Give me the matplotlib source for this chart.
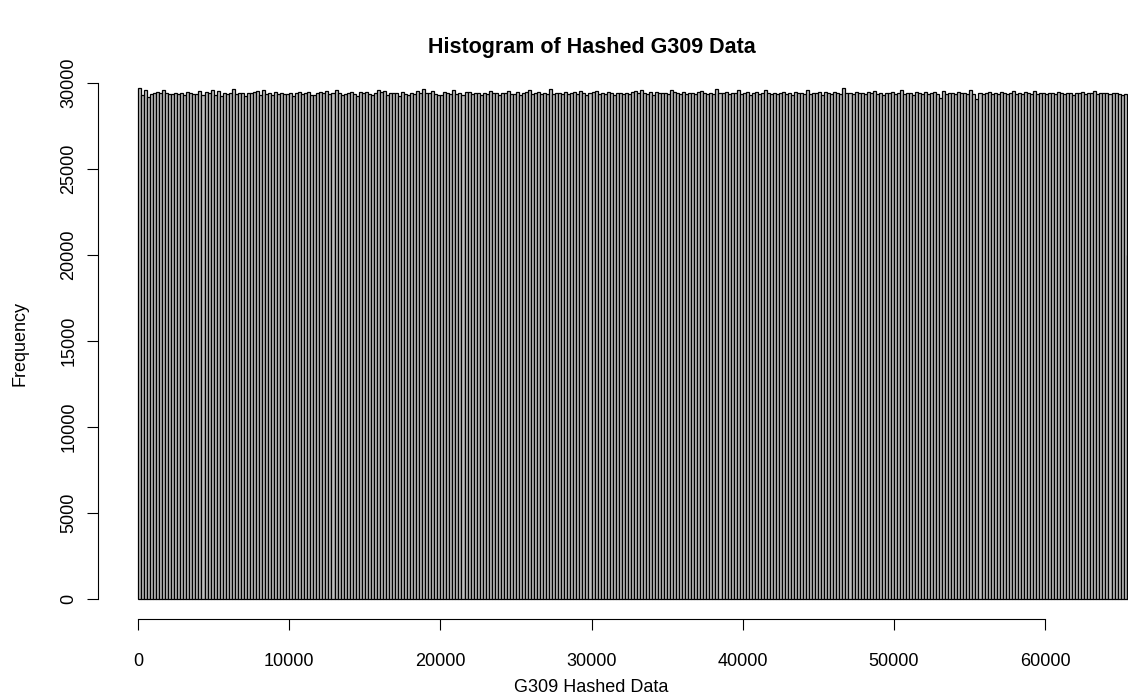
import numpy as np
import matplotlib
matplotlib.use("Agg")
import matplotlib.pyplot as plt

# ── Data: bin counts of hashed values, bin width 200 ─────────────────────────
BIN_WIDTH = 200
counts = [
    29720, 29320, 29580, 29210, 29360, 29430, 29500, 29390, 29620, 29410, 29380, 29340, 29400, 29360, 29400, 29320, 29470, 29410, 29340, 29370,
    29520, 29280, 29490, 29400, 29580, 29320, 29520, 29260, 29400, 29380, 29400, 29650, 29370, 29430, 29440, 29250, 29390, 29400, 29500, 29520,
    29320, 29600, 29360, 29420, 29280, 29460, 29350, 29410, 29380, 29360, 29440, 29270, 29400, 29470, 29360, 29420, 29500, 29320, 29310, 29420,
    29480, 29400, 29560, 29340, 29390, 29620, 29420, 29300, 29380, 29420, 29500, 29340, 29250, 29470, 29410, 29490, 29360, 29320, 29440, 29580,
    29460, 29550, 29330, 29390, 29400, 29420, 29270, 29480, 29380, 29330, 29440, 29350, 29520, 29440, 29660, 29390, 29400, 29560, 29360, 29280,
    29330, 29490, 29410, 29370, 29590, 29380, 29420, 29320, 29460, 29500, 29350, 29400, 29410, 29280, 29430, 29360, 29540, 29400, 29430, 29320,
    29440, 29390, 29560, 29370, 29350, 29480, 29310, 29410, 29450, 29600, 29360, 29420, 29500, 29340, 29400, 29380, 29630, 29360, 29440, 29410,
    29380, 29500, 29350, 29420, 29460, 29340, 29520, 29420, 29290, 29410, 29450, 29550, 29360, 29400, 29360, 29500, 29440, 29320, 29400, 29430,
    29380, 29440, 29360, 29490, 29540, 29400, 29600, 29420, 29360, 29450, 29330, 29500, 29410, 29390, 29440, 29360, 29620, 29480, 29420, 29380,
    29500, 29340, 29420, 29400, 29370, 29460, 29540, 29400, 29340, 29420, 29380, 29660, 29440, 29400, 29500, 29340, 29390, 29410, 29570, 29360,
    29430, 29490, 29320, 29400, 29480, 29360, 29420, 29590, 29400, 29340, 29440, 29380, 29420, 29500, 29360, 29400, 29320, 29480, 29440, 29400,
    29380, 29620, 29360, 29430, 29400, 29500, 29320, 29450, 29410, 29360, 29480, 29400, 29380, 29700, 29420, 29440, 29360, 29500, 29400, 29420,
    29340, 29460, 29400, 29550, 29380, 29400, 29320, 29440, 29410, 29500, 29360, 29420, 29600, 29360, 29400, 29440, 29320, 29480, 29400, 29380,
    29450, 29360, 29420, 29500, 29380, 29100, 29520, 29340, 29400, 29440, 29360, 29490, 29400, 29420, 29380, 29600, 29360, 29050, 29440, 29380,
    29400, 29500, 29340, 29420, 29380, 29460, 29400, 29360, 29440, 29520, 29380, 29400, 29340, 29480, 29420, 29370, 29560, 29360, 29420, 29400,
    29380, 29440, 29400, 29360, 29500, 29420, 29380, 29400, 29440, 29300, 29420, 29400, 29480, 29360, 29420, 29400, 29540, 29380, 29440, 29400,
    29420, 29360, 29400, 29440, 29380, 29300, 29360,
    20000,
]
x_ticks = [0, 10000, 20000, 30000, 40000, 50000, 60000]
y_ticks = [0, 5000, 10000, 15000, 20000, 25000, 30000]

TITLE = "Histogram of Hashed G309 Data"
XLABEL = "G309 Hashed Data"
YLABEL = "Frequency"

plt.rcParams["font.family"] = ["Liberation Sans", "DejaVu Sans"]

# ── Layout: R base-graphics geometry (right side of the plot is cropped) ─────
W, H, DPI = 1128, 698, 100
counts = np.array(counts, dtype=float)
edges = np.arange(len(counts) + 1) * BIN_WIDTH
ymax = counts.max()
xlim = (edges[0] - 0.04 * edges[-1], edges[-1] * 1.04)
ylim = (-0.04 * ymax, 1.04 * ymax)

# pixel anchors: x=0 -> 138, x=60000 -> 1045; y=0 -> 599, y=30000 -> 83
sx = (1045 - 138) / 60000
sy = (599 - 83) / 30000
left_px = 138 + sx * xlim[0]
right_px = 138 + sx * xlim[1]
bottom_px = 599 - sy * ylim[0]
top_px = 599 - sy * ylim[1]

fig = plt.figure(figsize=(W / DPI, H / DPI), dpi=DPI)
ax = fig.add_axes([left_px / W, 1 - bottom_px / H,
                   (right_px - left_px) / W, (bottom_px - top_px) / H])

ax.bar(edges[:-1], counts, width=BIN_WIDTH, align="edge",
       color="#bebebe", edgecolor="black", linewidth=0.9)

ax.set_xlim(*xlim)
ax.set_ylim(*ylim)

for s in ["top", "right"]:
    ax.spines[s].set_visible(False)
ax.spines["left"].set_bounds(y_ticks[0], y_ticks[-1])
ax.spines["bottom"].set_bounds(x_ticks[0], x_ticks[-1])
for s in ["left", "bottom"]:
    ax.spines[s].set_linewidth(0.8)

ax.set_xticks(x_ticks)
ax.set_yticks(y_ticks)
ax.set_xticklabels([str(v) for v in x_ticks])
ax.set_yticklabels([str(v) for v in y_ticks], rotation=90, va="center")
ax.tick_params(axis="both", length=8, width=0.8, labelsize=13, colors="black")
ax.tick_params(axis="x", pad=16)
ax.tick_params(axis="y", pad=7)

fig.text(592 / W, 1 - 48 / H, TITLE, ha="center", va="center",
         fontsize=15.5, fontweight="bold")
fig.text(591 / W, 1 - 688 / H, XLABEL, ha="center", va="center", fontsize=13)
fig.text(20 / W, 1 - 343 / H, YLABEL, ha="center", va="center",
         fontsize=13, rotation=90)

fig.savefig("out.png", dpi=DPI)
